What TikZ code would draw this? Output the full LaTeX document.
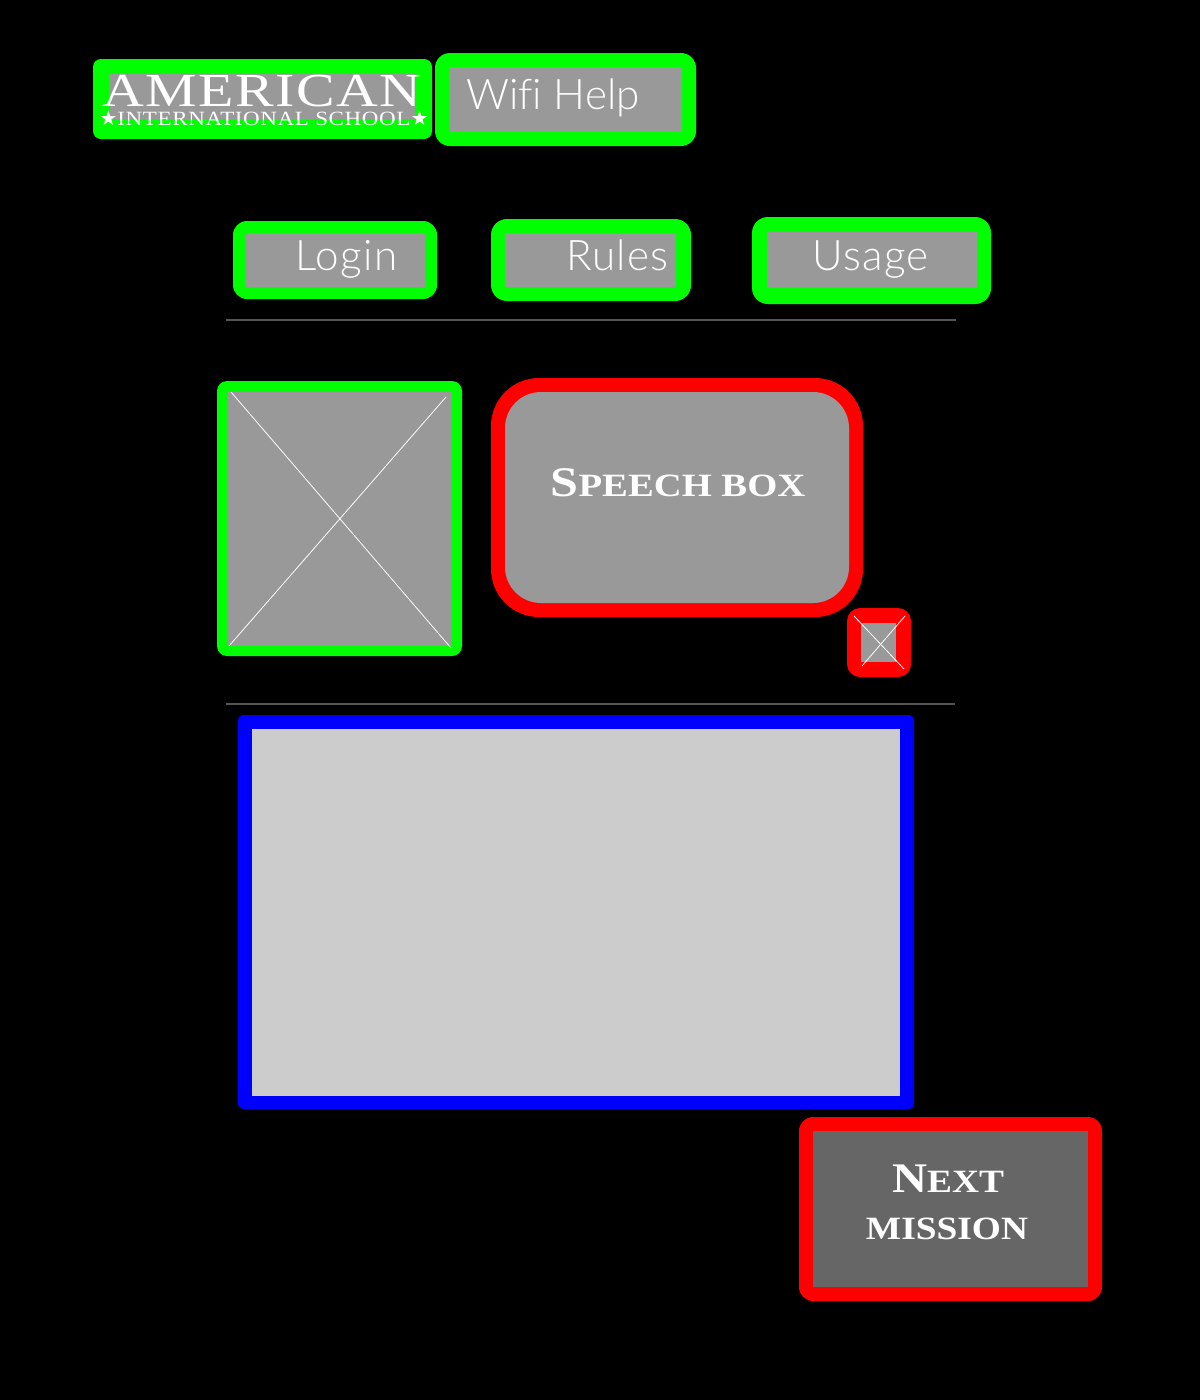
\documentclass[tikz,border=0pt]{standalone}
\usepackage{fontspec}
\usetikzlibrary{positioning}
\newfontfamily\uifont{Lato}[UprightFont=* Light,LetterSpace=3]
\newfontfamily\wififont{Lato}[UprightFont=* Light,Ligatures=NoCommon]
\newfontfamily\logofont[FakeStretch=1.22,LetterSpace=3]{Liberation Serif}
\newfontfamily\logosmallfont[FakeStretch=1.14,LetterSpace=3]{Liberation Serif}
\newfontfamily\platefont[FakeStretch=1.15]{Liberation Serif Bold}
\newfontfamily\platewidefont[FakeStretch=1.19]{Liberation Serif Bold}
\newfontfamily\starfont{DejaVu Sans}
\definecolor{framegreen}{HTML}{00FF00}
\definecolor{framered}{HTML}{FF0000}
\definecolor{frameblue}{HTML}{0000FF}
\definecolor{panel}{HTML}{999999}
\definecolor{panellight}{HTML}{CCCCCC}
\definecolor{paneldark}{HTML}{666666}
\definecolor{divider}{HTML}{555555}
\newcommand{\platebig}[1]{{\fontsize{24}{28}\platefont #1}}
\newcommand{\platesmall}[1]{{\fontsize{18.5}{28}\platefont #1}}
\tikzset{
  uilabel/.style={white,anchor=base west,inner sep=0pt,font=\fontsize{24}{28}\uifont},
  platelabel/.style={white,anchor=base,inner sep=0pt},
  xline/.style={white,line width=.45pt},
  dividerline/.style={divider,line width=.7pt}
}
\begin{document}
\begin{tikzpicture}[x=0.02cm,y=-0.02cm]
\fill[black] (0,0) rectangle (1200,1400);
% logo and wifi
\fill[framegreen,rounded corners=.16cm] (93,59) rectangle (432,139);
\fill[panel] (109,74) rectangle (415,120);
\fill[framegreen,rounded corners=.3cm] (435,53) rectangle (696,146);
\fill[panel] (449,67) rectangle (682,132);
\node[white,anchor=base,inner sep=0pt,font=\fontsize{27}{30}\logofont] (logotop) at (262,106) {AMERICAN};
\node[white,anchor=base,inner sep=0pt,font=\fontsize{11.5}{14}\logosmallfont] (logobottom) at (264,125.5) {{\starfont ★}INTERNATIONAL SCHOOL{\starfont ★}};
\node[uilabel,font=\fontsize{24}{28}\wififont] (wifi) at (466,109) {Wifi Help};
% menu buttons
\fill[framegreen,rounded corners=.28cm] (233,221) rectangle (437,299);
\fill[panel] (245,233) rectangle (425,287);
\fill[framegreen,rounded corners=.32cm] (491,219) rectangle (691,301);
\fill[panel] (505,233) rectangle (676,287);
\fill[framegreen,rounded corners=.32cm] (752,217) rectangle (991,304);
\fill[panel] (767,232) rectangle (977,288);
\node[uilabel] (login) at (295,270) {Login};
\node[uilabel] (rules) at (566,270) {Rules};
\node[uilabel] (usage) at (812,270) {Usage};
\draw[dividerline] (226,320) -- (956,320);
% picture and speech
\fill[framegreen,rounded corners=.2cm] (217,381) rectangle (462,656);
\fill[panel] (228,392) rectangle (452,646);
\draw[xline] (231,392) -- (451,648);
\draw[xline] (446,397) -- (229,646);
\fill[framered,rounded corners=.96cm] (491,378) rectangle (863,617);
\fill[panel,rounded corners=.72cm] (505,392) rectangle (849,603);
\node[platelabel] (speech) at (678,496) {{\fontsize{24}{28}\platewidefont S}{\fontsize{18.5}{28}\platewidefont PEECH BOX}};
\fill[framered,rounded corners=.26cm] (847,608) rectangle (911,677);
\fill[panel] (861,623) rectangle (896,662);
\draw[xline] (854,616) -- (904,669);
\draw[xline] (905,616) -- (862,666);
\draw[dividerline] (226,704) -- (955,704);
% video panel
\fill[frameblue,rounded corners=.1cm] (238,715) rectangle (914,1109);
\fill[panellight] (252,729) rectangle (900,1096);
% next button
\fill[framered,rounded corners=.28cm] (799,1117) rectangle (1102,1301);
\fill[paneldark] (813,1131) rectangle (1088,1287);
\node[platelabel] (nextword) at (948,1192) {\platebig{N}\platesmall{EXT}};
\node[platelabel] (missionword) at (947,1239) {\platesmall{MISSION}};
\end{tikzpicture}
\end{document}
